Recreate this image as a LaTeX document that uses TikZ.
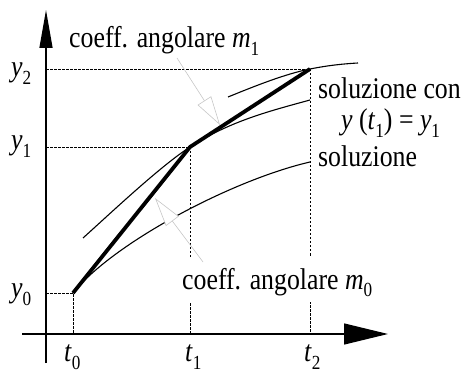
\documentclass[tikz,border=0pt]{standalone}
\usepackage{fontspec}
\setmainfont{Liberation Serif}[FakeStretch=0.86]
\usetikzlibrary{arrows.meta,positioning,calc}

% italic letter with a low index
\newcommand{\sbs}[2]{\textit{#1}\raisebox{-8pt}{\fontsize{20}{20}\selectfont #2}}

\begin{document}
\begin{tikzpicture}[x=1pt,y=-1pt,
    axis/.style={line width=1.3pt},
    guide/.style={line width=0.7pt, dash pattern=on 2.5pt off 1.5pt},
    sol/.style={line width=1.1pt},
    euler/.style={line width=3.8pt},
    note/.style={black!22, line width=0.6pt, -{Triangle[length=29pt,width=16pt,fill=white]}},
    lbl/.style={font=\fontsize{30}{32}\selectfont, inner sep=0pt, anchor=base west}]
    \useasboundingbox (0,0) rectangle (466,374);

    % Axes
    \coordinate (xa) at (22,334);
    \coordinate (xb) at (388,334);
    \coordinate (ya) at (46,363);
    \coordinate (yb) at (46,10);
    \draw[axis, -{Triangle[length=44pt,width=21pt]}] (xa) -- (xb);
    \draw[axis, -{Triangle[length=38pt,width=13pt]}] (ya) -- (yb);

    % Euler points
    \coordinate (P0) at (73,293);
    \coordinate (P1) at (190,147);
    \coordinate (P2) at (310,69);

    % Guides to the axes
    \draw[guide] (P0 -| ya) -- (P0) -- (P0 |- xa);
    \draw[guide] (P1 -| ya) -- (P1) -- (P1 |- xa);
    \draw[guide] (P2 -| ya) -- (P2) -- (P2 |- xa);

    % Exact solutions
    \draw[sol] (P0) .. controls (113,243) and (232,180) .. (310,162);
    \draw[sol] (83,238) .. controls (113,211) and (160,166.5) .. (P1)
        .. controls (230,121) and (270,111) .. (310,100);
    \draw[sol] (228,97) .. controls (255,86) and (285,74) .. (P2)
        .. controls (325,66) and (340,64) .. (358,63);

    % Euler polygon
    \draw[euler] (P0) -- (P1) -- (P2);

    % Axis labels
    \node[lbl] (ly2) at (11,77) {\sbs{y}{2}};
    \node[lbl] (ly1) at (11,150) {\sbs{y}{1}};
    \node[lbl] (ly0) at (11,298) {\sbs{y}{0}};
    \node[lbl] (lt0) at (64,361) {\sbs{t}{0}};
    \node[lbl] (lt1) at (185,361) {\sbs{t}{1}};
    \node[lbl] (lt2) at (304,361) {\sbs{t}{2}};

    % Curve labels
    \node[lbl] (lcon) at (318,99) {soluzione con};
    \node[lbl] (lcond) at (341,130) {\textit{y} (\sbs{t}{1}) = \sbs{y}{1}};
    \node[lbl] (lsol) at (318,167) {soluzione};

    % Slope labels
    \node[lbl] (lm1) at (69,48) {coeff. angolare \sbs{m}{1}};
    \node[lbl, fill=white, inner xsep=2pt, inner ysep=2pt, text height=30pt, text depth=11pt]
        (lm0) at (180,289) {coeff. angolare \sbs{m}{0}};

    \coordinate (m1tail) at (177,58);
    \coordinate (m1tip) at (220,125);
    \coordinate (m0tail) at (203,262);
    \coordinate (m0tip) at (155,198);
    \draw[note] (m1tail) -- (m1tip);
    \draw[note] (m0tail) -- (m0tip);
\end{tikzpicture}
\end{document}
